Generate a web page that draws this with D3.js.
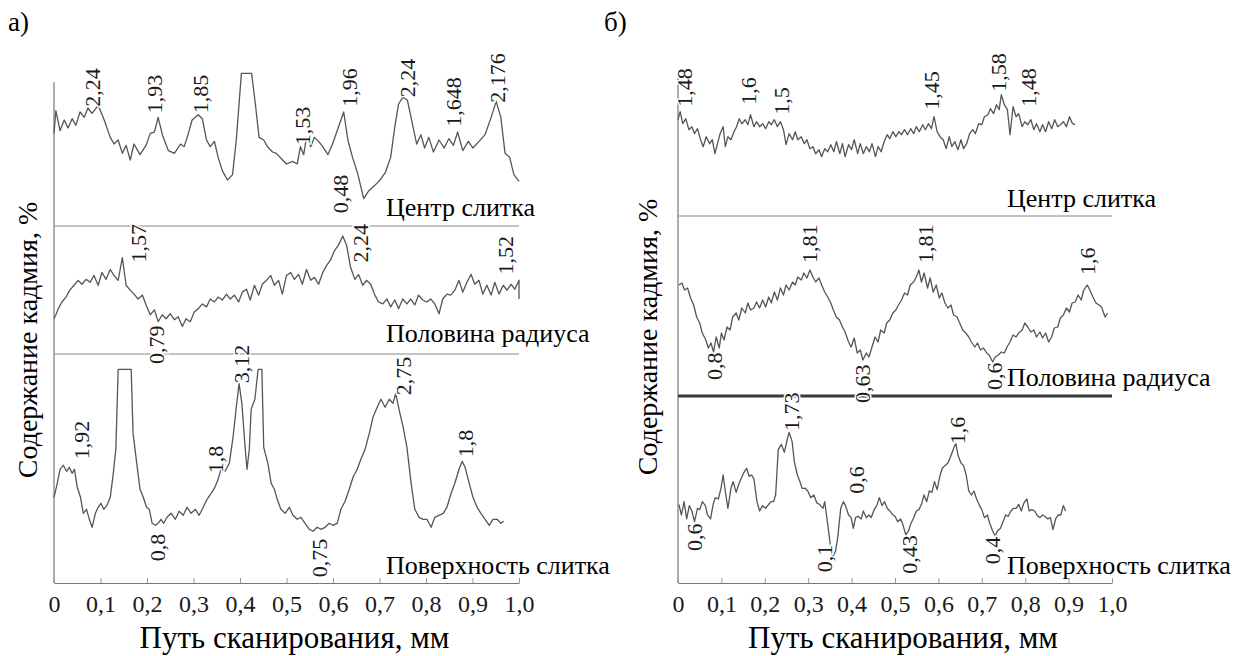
<!DOCTYPE html>
<html>
<head>
<meta charset="utf-8">
<script src="https://cdn.jsdelivr.net/npm/d3@7"></script>
</head>
<body style="margin:0">
<svg id="chart" width="1239" height="656" font-family="Liberation Serif"></svg>
<script>
const width = 1239;
const height = 656;
const fontName = "Liberation Serif";

// x ticks (mm) and their printed labels
const xTicks = [0, 0.1, 0.2, 0.3, 0.4, 0.5, 0.6, 0.7, 0.8, 0.9, 1.0];
const xTickLabels = ["0", "0,1", "0,2", "0,3", "0,4", "0,5", "0,6", "0,7", "0,8", "0,9", "1,0"];

// traces: [scan path mm, relative signal level 0..100]
const leftCenter = [[0,50],[.004,67],[.013,52],[.022,60],[.030,54],[.039,61],[.047,56],[.056,66],[.065,62],[.073,69],[.082,65],[.095,71],[.108,60],[.121,47],[.129,42],[.138,45],[.147,35],[.155,41],[.164,30],[.172,42],[.185,34],[.198,41],[.207,50],[.216,51],[.224,62],[.233,49],[.246,37],[.259,35],[.272,42],[.280,40],[.289,50],[.297,60],[.310,64],[.319,61],[.328,45],[.336,40],[.345,44],[.353,32],[.362,22],[.373,15],[.384,19],[.392,45],[.403,95],[.425,95],[.433,72],[.441,47],[.451,45],[.459,40],[.470,36],[.478,35],[.489,31],[.500,27],[.513,29],[.523,27],[.530,40],[.537,34],[.543,47],[.552,40],[.560,47],[.569,44],[.578,40],[.589,34],[.599,42],[.612,55],[.623,66],[.632,45],[.642,32],[.653,20],[.666,1],[.677,7],[.690,11],[.701,15],[.713,21],[.724,32],[.733,55],[.741,72],[.750,77],[.760,75],[.772,55],[.780,42],[.789,49],[.797,39],[.806,47],[.816,36],[.828,45],[.839,39],[.849,46],[.859,41],[.868,51],[.879,37],[.891,44],[.901,39],[.914,44],[.927,49],[.940,62],[.951,74],[.961,62],[.970,35],[.980,32],[.989,19],[1,14]];

const leftHalf = [[0,13],[.004,17],[.009,23],[.017,30],[.026,35],[.034,42],[.043,47],[.052,52],[.060,48],[.069,53],[.078,50],[.086,57],[.095,47],[.103,60],[.112,53],[.121,63],[.129,57],[.138,52],[.147,75],[.155,47],[.164,42],[.172,38],[.181,33],[.190,37],[.198,27],[.207,17],[.216,22],[.224,10],[.233,17],[.241,13],[.250,18],[.259,12],[.267,15],[.276,5],[.284,13],[.293,10],[.302,20],[.310,23],[.319,28],[.328,25],[.336,33],[.345,30],[.353,35],[.362,32],[.371,38],[.379,33],[.388,37],[.397,30],[.405,40],[.414,43],[.422,32],[.431,47],[.440,37],[.448,48],[.457,52],[.466,57],[.474,47],[.483,52],[.491,38],[.500,57],[.509,60],[.517,53],[.526,58],[.534,48],[.543,63],[.552,52],[.560,55],[.569,48],[.578,60],[.586,67],[.595,73],[.603,82],[.612,88],[.621,97],[.629,88],[.638,65],[.647,53],[.655,58],[.664,47],[.672,52],[.681,48],[.690,37],[.698,30],[.707,28],[.716,33],[.724,25],[.733,32],[.741,23],[.750,33],[.759,28],[.767,33],[.776,27],[.784,37],[.793,32],[.802,30],[.810,33],[.819,28],[.828,18],[.836,33],[.845,38],[.853,37],[.862,42],[.871,52],[.879,40],[.888,50],[.897,58],[.905,48],[.914,52],[.922,38],[.931,47],[.940,37],[.948,50],[.957,38],[.966,47],[.974,42],[.983,48],[.991,43],[1,52],[1,33]];

const leftSurface = [[0,33],[.007,40],[.013,47],[.020,49],[.027,46],[.033,48],[.039,45],[.044,47],[.050,38],[.057,33],[.063,25],[.070,27],[.076,22],[.082,18],[.089,25],[.095,28],[.101,30],[.107,27],[.114,29],[.121,33],[.127,44],[.133,57],[.138,97],[.166,97],[.170,65],[.179,48],[.185,37],[.192,33],[.199,28],[.205,27],[.211,20],[.218,19],[.224,20],[.230,22],[.236,20],[.243,23],[.252,25],[.261,22],[.269,26],[.278,24],[.286,28],[.295,25],[.304,27],[.312,24],[.321,28],[.329,32],[.338,35],[.346,38],[.353,42],[.359,47],[.368,46],[.377,50],[.385,63],[.392,78],[.398,90],[.404,80],[.411,58],[.415,47],[.420,57],[.424,77],[.432,82],[.439,97],[.447,97],[.451,58],[.460,50],[.467,40],[.474,37],[.480,32],[.488,27],[.497,25],[.506,28],[.514,24],[.523,22],[.531,23],[.540,20],[.549,17],[.557,16],[.566,18],[.574,17],[.583,18],[.592,20],[.600,19],[.609,20],[.617,27],[.626,31],[.635,37],[.643,43],[.652,47],[.660,52],[.669,57],[.678,65],[.686,73],[.695,78],[.703,82],[.712,78],[.721,82],[.729,80],[.735,85],[.742,77],[.751,68],[.759,58],[.768,40],[.776,27],[.785,23],[.794,22],[.802,22],[.811,18],[.819,23],[.828,24],[.837,25],[.845,28],[.854,35],[.862,40],[.871,47],[.878,51],[.884,48],[.893,40],[.901,33],[.910,28],[.918,25],[.927,22],[.936,19],[.944,22],[.953,22],[.961,20],[.967,21]];

const rightCenter = [[0,47],[.005,55],[.011,43],[.018,48],[.025,37],[.032,40],[.038,33],[.045,38],[.052,27],[.058,20],[.065,30],[.073,23],[.079,27],[.085,13],[.091,23],[.097,33],[.104,40],[.109,20],[.115,30],[.122,27],[.129,35],[.135,40],[.141,48],[.147,43],[.155,47],[.161,42],[.167,52],[.175,40],[.181,45],[.188,40],[.195,43],[.202,38],[.209,45],[.215,42],[.222,47],[.229,40],[.236,45],[.243,37],[.249,22],[.256,33],[.264,27],[.270,35],[.276,27],[.284,30],[.291,23],[.297,27],[.304,18],[.311,20],[.317,13],[.325,17],[.331,10],[.338,18],[.345,15],[.352,22],[.359,15],[.365,25],[.373,13],[.379,23],[.385,10],[.393,22],[.400,17],[.406,27],[.414,13],[.420,23],[.427,13],[.434,20],[.441,15],[.447,23],[.455,10],[.461,20],[.468,15],[.475,25],[.482,32],[.488,28],[.495,35],[.502,30],[.509,35],[.515,32],[.522,37],[.529,32],[.536,38],[.543,33],[.549,40],[.556,35],[.564,42],[.570,37],[.577,43],[.584,38],[.590,50],[.597,35],[.604,30],[.611,27],[.618,18],[.625,30],[.631,20],[.638,25],[.645,17],[.652,27],[.658,18],[.665,23],[.672,33],[.679,37],[.685,33],[.693,43],[.700,42],[.706,50],[.714,52],[.720,58],[.727,53],[.734,62],[.740,57],[.745,72],[.752,62],[.759,57],[.765,32],[.772,60],[.779,50],[.785,53],[.793,40],[.799,45],[.806,42],[.813,47],[.820,37],[.826,43],[.834,35],[.840,42],[.847,35],[.854,45],[.861,38],[.868,47],[.875,40],[.881,42],[.888,45],[.895,40],[.902,50],[.909,43],[.915,42]];

const rightHalf = [[.002,85],[.009,87],[.015,80],[.022,82],[.029,72],[.036,65],[.043,53],[.050,47],[.056,37],[.064,30],[.070,22],[.076,27],[.082,18],[.088,33],[.095,22],[.100,37],[.106,30],[.113,43],[.120,40],[.126,53],[.134,57],[.140,50],[.147,62],[.155,57],[.161,67],[.167,60],[.175,62],[.181,68],[.188,62],[.195,70],[.202,63],[.209,73],[.215,67],[.222,78],[.229,70],[.236,82],[.243,75],[.249,85],[.256,80],[.264,88],[.270,85],[.276,93],[.284,90],[.290,97],[.297,92],[.304,100],[.311,93],[.317,88],[.325,92],[.331,85],[.338,78],[.345,73],[.352,67],[.358,60],[.365,53],[.372,50],[.379,43],[.385,38],[.393,28],[.399,23],[.406,32],[.413,17],[.420,20],[.426,10],[.434,17],[.440,13],[.447,23],[.454,33],[.461,28],[.467,40],[.475,37],[.481,47],[.488,50],[.495,57],[.502,60],[.508,65],[.515,70],[.522,77],[.529,75],[.535,85],[.543,88],[.549,93],[.555,100],[.561,88],[.567,97],[.575,82],[.581,92],[.588,78],[.595,85],[.602,72],[.608,77],[.615,67],[.622,62],[.629,65],[.635,55],[.643,53],[.649,47],[.656,40],[.663,37],[.670,33],[.676,28],[.684,23],[.690,27],[.697,20],[.704,22],[.711,17],[.717,15],[.725,8],[.731,13],[.738,15],[.745,18],[.752,17],[.758,23],[.765,28],[.772,35],[.779,33],[.785,37],[.793,40],[.799,47],[.806,43],[.813,38],[.820,40],[.826,33],[.834,38],[.840,32],[.847,37],[.854,28],[.861,33],[.867,42],[.875,43],[.881,52],[.888,55],[.895,62],[.902,58],[.908,67],[.915,68],[.922,75],[.929,70],[.935,80],[.943,85],[.949,80],[.956,73],[.963,67],[.970,65],[.976,63],[.984,53],[.990,57]];

const rightSurface = [[.002,45],[.008,37],[.014,47],[.020,34],[.026,44],[.032,40],[.038,32],[.045,42],[.050,41],[.056,47],[.063,44],[.068,37],[.075,34],[.081,45],[.086,50],[.093,49],[.099,57],[.104,67],[.109,55],[.115,42],[.122,57],[.127,62],[.134,54],[.140,60],[.145,64],[.152,69],[.158,72],[.164,66],[.170,67],[.175,64],[.182,47],[.188,40],[.195,44],[.202,42],[.209,45],[.215,47],[.220,47],[.225,52],[.231,86],[.238,90],[.245,84],[.252,94],[.256,99],[.263,92],[.268,77],[.275,67],[.281,62],[.286,57],[.293,57],[.299,55],[.306,50],[.313,52],[.320,46],[.326,45],[.334,42],[.338,47],[.345,30],[.350,17],[.356,5],[.363,10],[.368,20],[.375,42],[.381,47],[.386,44],[.393,37],[.399,35],[.404,27],[.409,35],[.415,36],[.422,34],[.427,40],[.434,35],[.440,37],[.445,35],[.452,41],[.458,44],[.464,50],[.470,44],[.476,47],[.482,42],[.488,40],[.495,37],[.500,36],[.506,32],[.513,34],[.518,30],[.525,22],[.531,25],[.536,30],[.543,35],[.549,40],[.555,41],[.561,45],[.567,52],[.573,47],[.579,55],[.585,54],[.591,62],[.597,56],[.604,67],[.609,72],[.615,74],[.622,76],[.627,80],[.634,86],[.640,91],[.645,82],[.652,76],[.658,74],[.664,67],[.670,55],[.676,52],[.682,55],[.688,49],[.695,44],[.700,41],[.706,35],[.713,37],[.718,31],[.725,25],[.731,21],[.736,25],[.743,27],[.749,32],[.755,37],[.761,36],[.767,40],[.773,42],[.779,42],[.785,45],[.791,40],[.797,46],[.804,49],[.809,40],[.815,41],[.822,40],[.827,37],[.834,35],[.840,37],[.845,36],[.852,34],[.858,35],[.864,26],[.870,34],[.876,37],[.882,37],[.888,44],[.893,40]];

// peak annotations: [x mm, level at the label foot, text]
const leftCenterNotes = [[.082,70,"2,24"],[.216,65,"1,93"],[.315,65,"1,85"],[.534,41,"1,53"],[.634,70,"1,96"],[.616,-10,"0,48"],[.759,77,"2,24"],[.858,55,"1,648"],[.953,73,"2,176"]];
const leftHalfNotes = [[.181,70,"1,57"],[.220,-33,"0,79"],[.659,70,"2,24"],[.970,58,"1,52"]];
const leftSurfaceNotes = [[.058,52,"1,92"],[.222,1,"0,8"],[.347,45,"1,8"],[.402,90,"3,12"],[.570,-7,"0,75"],[.751,84,"2,75"],[.884,53,"1,8"]];
const rightCenterNotes = [[.015,60,"1,48"],[.161,62,"1,6"],[.238,52,"1,5"],[.584,57,"1,45"],[.738,75,"1,58"],[.806,60,"1,48"]];
const rightHalfNotes = [[.302,107,"1,81"],[.570,107,"1,81"],[.943,95,"1,6"],[.084,-10,"0,8"],[.425,-33,"0,63"],[.729,-20,"0,6"]];
const rightSurfaceNotes = [[.038,10,"0,6"],[.261,100,"1,73"],[.338,-6,"0,1"],[.411,53,"0,6"],[.534,-7,"0,43"],[.643,90,"1,6"],[.725,0,"0,4"]];

const traceNames = ["Центр слитка", "Половина радиуса", "Поверхность слитка"];

const svg = d3.select("#chart");

const panels = [
    {
        tag: "а)", tagX: 8,
        x0: 54, x1: 519, axisTop: 82, axisY: 583,
        seps: [{y: 226, w: 1.2, c: "#8a8a8a"}, {y: 354, w: 1.2, c: "#8a8a8a"}],
        nameX: 386, nameY: [216, 342, 574],
        yLabelX: 37, yLabelY: 340,
        traces: [
            {data: leftCenter, band: [200, 66.7], notes: leftCenterNotes},
            {data: leftHalf, band: [331.5, 233.1], notes: leftHalfNotes},
            {data: leftSurface, band: [563.3, 363.3], notes: leftSurfaceNotes}
        ]
    },
    {
        tag: "б)", tagX: 604,
        x0: 678, x1: 1112, axisTop: 78, axisY: 583,
        seps: [{y: 216, w: 1.2, c: "#8a8a8a"}, {y: 396, w: 3, c: "#3a3a3a"}],
        nameX: 1007, nameY: [207, 386, 574],
        yLabelX: 657, yLabelY: 337,
        traces: [
            {data: rightCenter, band: [166.7, 66.7], notes: rightCenterNotes},
            {data: rightHalf, band: [370, 270], notes: rightHalfNotes},
            {data: rightSurface, band: [564.3, 431], notes: rightSurfaceNotes}
        ]
    }
];

panels.forEach(p => {
    const g = svg.append("g").attr("font-family", fontName);
    const x = d3.scaleLinear().domain([0, 1]).range([p.x0, p.x1]);

    g.append("text")
        .attr("x", p.tagX).attr("y", 31)
        .attr("font-family", fontName)
        .attr("font-size", 27)
        .text(p.tag);

    // y axis line (no ticks)
    g.append("line")
        .attr("x1", p.x0).attr("x2", p.x0)
        .attr("y1", p.axisTop).attr("y2", p.axisY)
        .attr("stroke", "#777").attr("stroke-width", 1.2);

    // separators between traces
    p.seps.forEach(s => {
        g.append("line")
            .attr("x1", p.x0).attr("x2", p.x1)
            .attr("y1", s.y).attr("y2", s.y)
            .attr("stroke", s.c).attr("stroke-width", s.w);
    });

    // x axis
    const xAxis = d3.axisBottom(x)
        .tickValues(xTicks)
        .tickFormat((d, i) => xTickLabels[i])
        .tickSizeInner(-5)
        .tickSizeOuter(0)
        .tickPadding(12);
    const ax = g.append("g")
        .attr("transform", `translate(0,${p.axisY})`)
        .call(xAxis)
        .attr("font-family", fontName)
        .attr("font-size", 24);
    ax.select(".domain").attr("stroke", "#777").attr("stroke-width", 1.2);
    ax.selectAll(".tick line").attr("stroke", "#999");
    ax.selectAll(".tick text")
        .attr("font-family", fontName)
        .attr("fill", "#1a1a1a");

    g.append("text")
        .attr("x", (p.x0 + p.x1) / 2 + 8).attr("y", 648)
        .attr("text-anchor", "middle")
        .attr("font-family", fontName)
        .attr("font-size", 31)
        .text("Путь сканирования, мм");

    g.append("text")
        .attr("transform", `translate(${p.yLabelX},${p.yLabelY}) rotate(-90)`)
        .attr("text-anchor", "middle")
        .attr("font-family", fontName)
        .attr("font-size", 28)
        .text("Содержание кадмия, %");

    const line = d3.line().x(d => x(d[0]));

    p.traces.forEach((t, i) => {
        const y = d3.scaleLinear().domain([0, 100]).range(t.band);
        g.append("path")
            .datum(t.data)
            .attr("fill", "none")
            .attr("stroke", "#555")
            .attr("stroke-width", 1.3)
            .attr("stroke-linejoin", "round")
            .attr("d", line.y(d => y(d[1])));

        g.selectAll(null)
            .data(t.notes)
            .enter().append("text")
            .attr("transform", d => `translate(${x(d[0])},${y(d[1])}) rotate(-90)`)
            .attr("dy", "0.35em")
            .attr("font-family", fontName)
            .attr("font-size", 22)
            .attr("stroke", "#fff").attr("stroke-width", 3)
            .attr("paint-order", "stroke")
            .attr("fill", "#1a1a1a")
            .text(d => d[2]);

        g.append("text")
            .attr("x", p.nameX).attr("y", p.nameY[i])
            .attr("font-family", fontName)
            .attr("font-size", 26)
            .text(traceNames[i]);
    });
});
</script>
</body>
</html>
